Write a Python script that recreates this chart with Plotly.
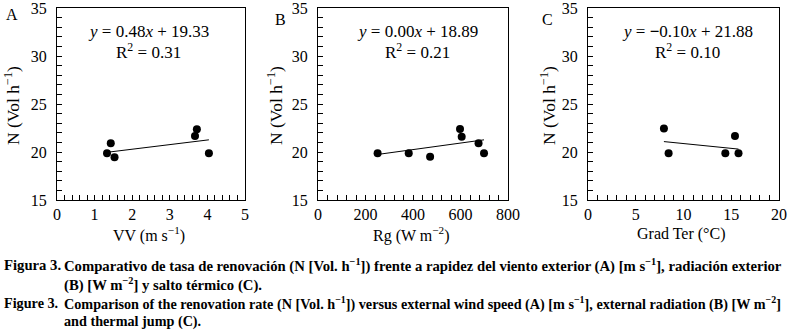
import plotly.graph_objects as go

# ---- data ----
vv = [1.33, 1.43, 1.53, 3.67, 3.72, 4.04]
n_vv = [19.86, 20.9, 19.45, 21.67, 22.36, 19.86]
rg = [251, 382, 472, 598, 605, 676, 699]
n_rg = [19.86, 19.86, 19.5, 22.4, 21.6, 20.9, 19.86]
gt = [7.95, 8.44, 14.38, 15.39, 15.76]
n_gt = [22.45, 19.86, 19.86, 21.67, 19.86]

slopes = [0.48, 0.0034, -0.10]
intercepts = [19.33, 18.89, 21.88]
eq_labels = ["<i>y</i> = 0.48<i>x</i> + 19.33", "<i>y</i> = 0.00<i>x</i> + 18.89", "<i>y</i> = <b>−</b>0.10<i>x</i> + 21.88"]
r2_labels = ["R<sup>2</sup> = 0.31", "R<sup>2</sup> = 0.21", "R<sup>2</sup> = 0.10"]
panel_letters = ["A", "B", "C"]
x_titles = ["VV (m s<sup>−1</sup>)", "Rg (W m<sup>−2</sup>)", "Grad Ter (°C)"]
x_ranges = [[0, 5], [0, 800], [0, 20]]
x_dticks = [1, 200, 5]
x_minor = [0.2, 40, 1]
y_title = "N (Vol h<sup>−1</sup>)"

W, H = 790, 330
FONT = "Liberation Serif"

def px(x):
    return x / W

def py(y):
    return 1 - y / H

# panel pixel boxes
boxes = [(57, 245), (318, 508), (588, 779)]
top, bottom = 8, 200

fig = go.Figure()
datasets = [(vv, n_vv), (rg, n_rg), (gt, n_gt)]
for i, (xs, ys) in enumerate(datasets):
    ax = "" if i == 0 else str(i + 1)
    xmin, xmax = min(xs), max(xs)
    fig.add_trace(go.Scatter(
        x=[xmin, xmax], y=[slopes[i] * xmin + intercepts[i], slopes[i] * xmax + intercepts[i]],
        mode="lines", line=dict(color="black", width=1),
        xaxis="x" + ax, yaxis="y" + ax, showlegend=False, hoverinfo="skip"))
    fig.add_trace(go.Scatter(
        x=xs, y=ys, mode="markers", marker=dict(color="black", size=8),
        xaxis="x" + ax, yaxis="y" + ax, showlegend=False))

layout = dict(
    width=W, height=H, margin=dict(l=0, r=0, t=0, b=0, autoexpand=False),
    paper_bgcolor="white", plot_bgcolor="white",
    font=dict(family=FONT, size=16, color="black"),
    showlegend=False,
)
for i in range(3):
    sfx = "" if i == 0 else str(i + 1)
    l, r = boxes[i]
    layout["xaxis" + sfx] = dict(
        domain=[px(l), px(r)], range=x_ranges[i], dtick=x_dticks[i], tick0=0,
        ticks="inside", ticklen=5, tickcolor="black",
        minor=dict(dtick=x_minor[i], ticks="inside", ticklen=5, tickcolor="black"),
        showline=True, linecolor="black", linewidth=1, mirror=True,
        showgrid=False, zeroline=False, anchor="y" + sfx, automargin=False,
        ticklabeloverflow="allow",
        tickfont=dict(size=16), ticklabelstandoff=0)
    layout["yaxis" + sfx] = dict(
        domain=[py(bottom), py(top)], range=[15, 35], dtick=5, tick0=15,
        ticks="inside", ticklen=5, tickcolor="black",
        minor=dict(dtick=1, ticks="inside", ticklen=5, tickcolor="black"),
        showline=True, linecolor="black", linewidth=1, mirror=True,
        showgrid=False, zeroline=False, anchor="x" + sfx, automargin=False,
        ticklabeloverflow="allow",
        tickfont=dict(size=16), ticklabelstandoff=6)
fig.update_layout(**layout)

ann = []
letter_pos = [(12, 14), (280, 20), (547, 20)]
eq_x = [148, 417, 687]
ytitle_x = [12, 275, 548]

def add_ann(x, y, text, size=16, xanchor="center", **kw):
    ann.append(dict(x=px(x), y=py(y), xref="paper", yref="paper", text=text,
                    showarrow=False, xanchor=xanchor, yanchor="middle",
                    font=dict(family=FONT, size=size, color="black"), **kw))

for i in range(3):
    l, r = boxes[i]
    add_ann(letter_pos[i][0], letter_pos[i][1], panel_letters[i])
    add_ann(eq_x[i], 31, eq_labels[i], size=17)
    add_ann(eq_x[i], 51, r2_labels[i], size=17)
    add_ann(ytitle_x[i], 106, y_title, size=17.5, textangle=-90)
    add_ann((l + r) / 2 - 2, 234, x_titles[i])

caption_heads = ["<b>Figura 3.</b>", "<b>Figure 3.</b>"]
caption_lines = [
    "<b>Comparativo de tasa de renovación (N [Vol. h<sup>−1</sup>]) frente a rapidez del viento exterior (A) [m s<sup>−1</sup>], radiación exterior</b>",
    "<b>(B) [W m<sup>−2</sup>] y salto térmico (C).</b>",
    "<b>Comparison of the renovation rate (N [Vol. h<sup>−1</sup>]) versus external wind speed (A) [m s<sup>−1</sup>], external radiation (B) [W m<sup>−2</sup>]</b>",
    "<b>and thermal jump (C).</b>",
]
line_y = [265, 284, 303, 321]
cap_sizes = [14.7, 14.7, 14.2, 14.2]
add_ann(2, line_y[0], caption_heads[0], size=cap_sizes[0], xanchor="left")
add_ann(2, line_y[2], caption_heads[1], size=cap_sizes[2], xanchor="left")
for k, t in enumerate(caption_lines):
    add_ann(62, line_y[k], t, size=cap_sizes[k], xanchor="left")

fig.update_layout(annotations=ann)
fig.write_html("out.html", config={"displayModeBar": False},
               post_script="document.body.style.margin='0';document.body.style.overflow='hidden';")
